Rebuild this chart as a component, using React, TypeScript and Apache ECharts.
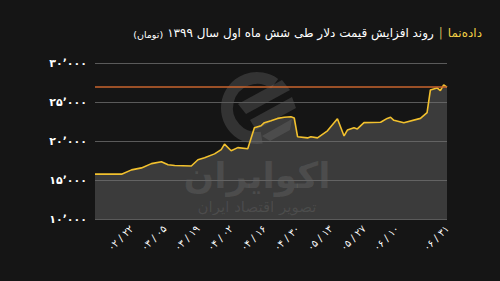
import React, { useEffect, useRef } from "react";
import * as echarts from "echarts";

// Trading-day index (0 = first day shown) and dollar price in toman
const tradingDayIndex = [0, 8, 11, 14, 17, 20, 22, 24, 29, 31, 33, 36, 38, 39, 41, 43, 46, 48, 50, 51, 53, 55, 57, 59, 60, 61, 64, 65, 67, 70, 73, 75, 76, 78, 79, 81, 86, 88, 89, 90, 93, 98, 100, 101, 103, 104, 105, 106];
const priceToman = [15750, 15750, 16300, 16550, 17100, 17350, 16950, 16850, 16800, 17600, 17850, 18350, 18900, 19600, 18750, 19150, 19000, 21700, 21950, 22350, 22600, 22900, 23050, 23100, 22950, 20550, 20400, 20550, 20400, 21300, 22850, 20650, 21400, 21700, 21550, 22350, 22400, 22900, 23050, 22650, 22350, 22900, 23650, 26550, 26800, 26450, 27200, 26900];

// X-axis tick labels (month / day, Solar Hijri 1399)
const labelDayIndex = [11, 21, 31, 41, 51, 61, 71, 81, 91, 106];
const dateLabels = ["۰۲ / ۲۲", "۰۳ / ۰۵", "۰۳ / ۱۹", "۰۴ / ۰۲", "۰۴ / ۱۶", "۰۴ / ۳۰", "۰۵ / ۱۳", "۰۵ / ۲۷", "۰۶ / ۱۰", "۰۶ / ۳۱"];

const yMin = 10000;
const yMax = 30000;
const yInterval = 5000;
const referenceLevel = 27000;

const lastDay = 106;

const titleBrand = "داده\u200cنما";
const titleMain = "روند افزایش قیمت دلار طی شش ماه اول سال ۱۳۹۹";
const titleUnit = "(تومان)";

const faDigits = "۰۱۲۳۴۵۶۷۸۹";
function toFa(s: string): string {
  return s.replace(/[0-9]/g, (d) => faDigits[Number(d)]);
}
function fmtNum(v: number): string {
  const s = Math.round(v).toString().replace(/\B(?=(\d{3})+(?!\d))/g, "٬");
  return toFa(s);
}

const FONT = "DejaVu Sans";

function measure(text: string, size: number, weight = "normal"): number {
  const c = document.createElement("canvas").getContext("2d");
  if (!c) return text.length * size * 0.5;
  c.font = `${weight} ${size}px ${FONT}`;
  return c.measureText(text).width;
}

export default function App() {
  const ref = useRef<HTMLDivElement>(null);
  useEffect(() => {
    if (!ref.current) return;
    const chart = echarts.init(ref.current, undefined, { renderer: "svg" });
    const wm = "rgba(255,255,255,0.13)";
    const font = FONT + ", sans-serif";

    const titleY = 33;
    const titleSize = 12;
    const unitSize = 9.5;
    const brandRight = 482;
    const brandW = measure(titleBrand, titleSize);
    const barX = brandRight - brandW - 7;
    const mainRight = barX - 7;
    const mainW = measure(titleMain, titleSize);
    const unitRight = mainRight - mainW - 4;

    chart.setOption({
      animation: false,
      backgroundColor: "#151515",
      grid: { left: 95, right: 53, top: 63, bottom: 62, containLabel: false },
      graphic: [
        {
          type: "text",
          x: brandRight,
          y: titleY,
          style: { text: titleBrand, fill: "#f0cf45", fontSize: titleSize, fontFamily: font, align: "right", verticalAlign: "middle" },
        },
        {
          type: "text",
          x: barX,
          y: titleY,
          style: { text: "|", fill: "#c9b25a", fontSize: titleSize, fontFamily: font, align: "center", verticalAlign: "middle" },
        },
        {
          type: "text",
          x: mainRight,
          y: titleY,
          style: { text: titleMain, fill: "#ffffff", fontSize: titleSize, fontFamily: font, align: "right", verticalAlign: "middle" },
        },
        {
          type: "text",
          x: unitRight,
          y: titleY + 1,
          style: { text: titleUnit, fill: "#ffffff", fontSize: unitSize, fontFamily: font, align: "right", verticalAlign: "middle" },
        },
        // watermark logo
        {
          type: "arc",
          shape: { cx: 257, cy: 108, r: 30, startAngle: Math.PI * 0.45, endAngle: Math.PI * 1.7 },
          style: { stroke: wm, lineWidth: 12, fill: "none" },
          silent: true,
        },
        {
          type: "polygon",
          shape: { points: [[238, 104], [282, 80], [290, 90], [246, 114]] },
          style: { fill: wm },
          silent: true,
        },
        {
          type: "polygon",
          shape: { points: [[250, 120], [292, 97], [296, 108], [256, 130]] },
          style: { fill: wm },
          silent: true,
        },
        {
          type: "polygon",
          shape: { points: [[262, 136], [292, 119], [290, 130], [270, 141]] },
          style: { fill: wm },
          silent: true,
        },
        {
          type: "text",
          x: 257,
          y: 175,
          style: { text: "اکوایران", fill: wm, fontSize: 36, fontWeight: "bold", fontFamily: font, align: "center", verticalAlign: "middle" },
          silent: true,
        },
        {
          type: "text",
          x: 257,
          y: 207,
          style: { text: "تصویر اقتصاد ایران", fill: wm, fontSize: 15, fontFamily: font, align: "center", verticalAlign: "middle" },
          silent: true,
        },
      ],
      xAxis: {
        type: "value",
        min: 0,
        max: lastDay,
        axisLine: { show: false },
        axisTick: { show: false },
        splitLine: { show: false },
        axisLabel: {
          customValues: labelDayIndex,
          rotate: 45,
          color: "#ffffff",
          fontSize: 10,
          fontFamily: font,
          margin: 8,
          formatter: (v: number) => {
            const i = labelDayIndex.indexOf(Math.round(v));
            return i >= 0 ? dateLabels[i] : "";
          },
        },
      },
      yAxis: {
        type: "value",
        min: yMin,
        max: yMax,
        interval: yInterval,
        axisLine: { show: false },
        axisTick: { show: false },
        splitLine: { lineStyle: { color: "#5a5a5a", width: 1 } },
        axisLabel: {
          color: "#ffffff",
          fontSize: 11,
          fontWeight: "bold",
          fontFamily: font,
          margin: 8,
          formatter: (v: number) => fmtNum(v),
        },
      },
      series: [
        {
          type: "line",
          data: tradingDayIndex.map((d, i) => [d, priceToman[i]]),
          showSymbol: false,
          lineStyle: { color: "#f2c12e", width: 1.6 },
          areaStyle: { color: "rgba(112,112,112,0.6)" },
          markLine: {
            silent: true,
            symbol: "none",
            label: { show: false },
            lineStyle: { color: "#c8642e", width: 1.6, type: "solid" },
            data: [{ yAxis: referenceLevel }],
          },
        },
      ],
    });
    return () => chart.dispose();
  }, []);
  return <div ref={ref} style={{ position: "fixed", left: 0, top: 0, width: 500, height: 281 }} />;
}
